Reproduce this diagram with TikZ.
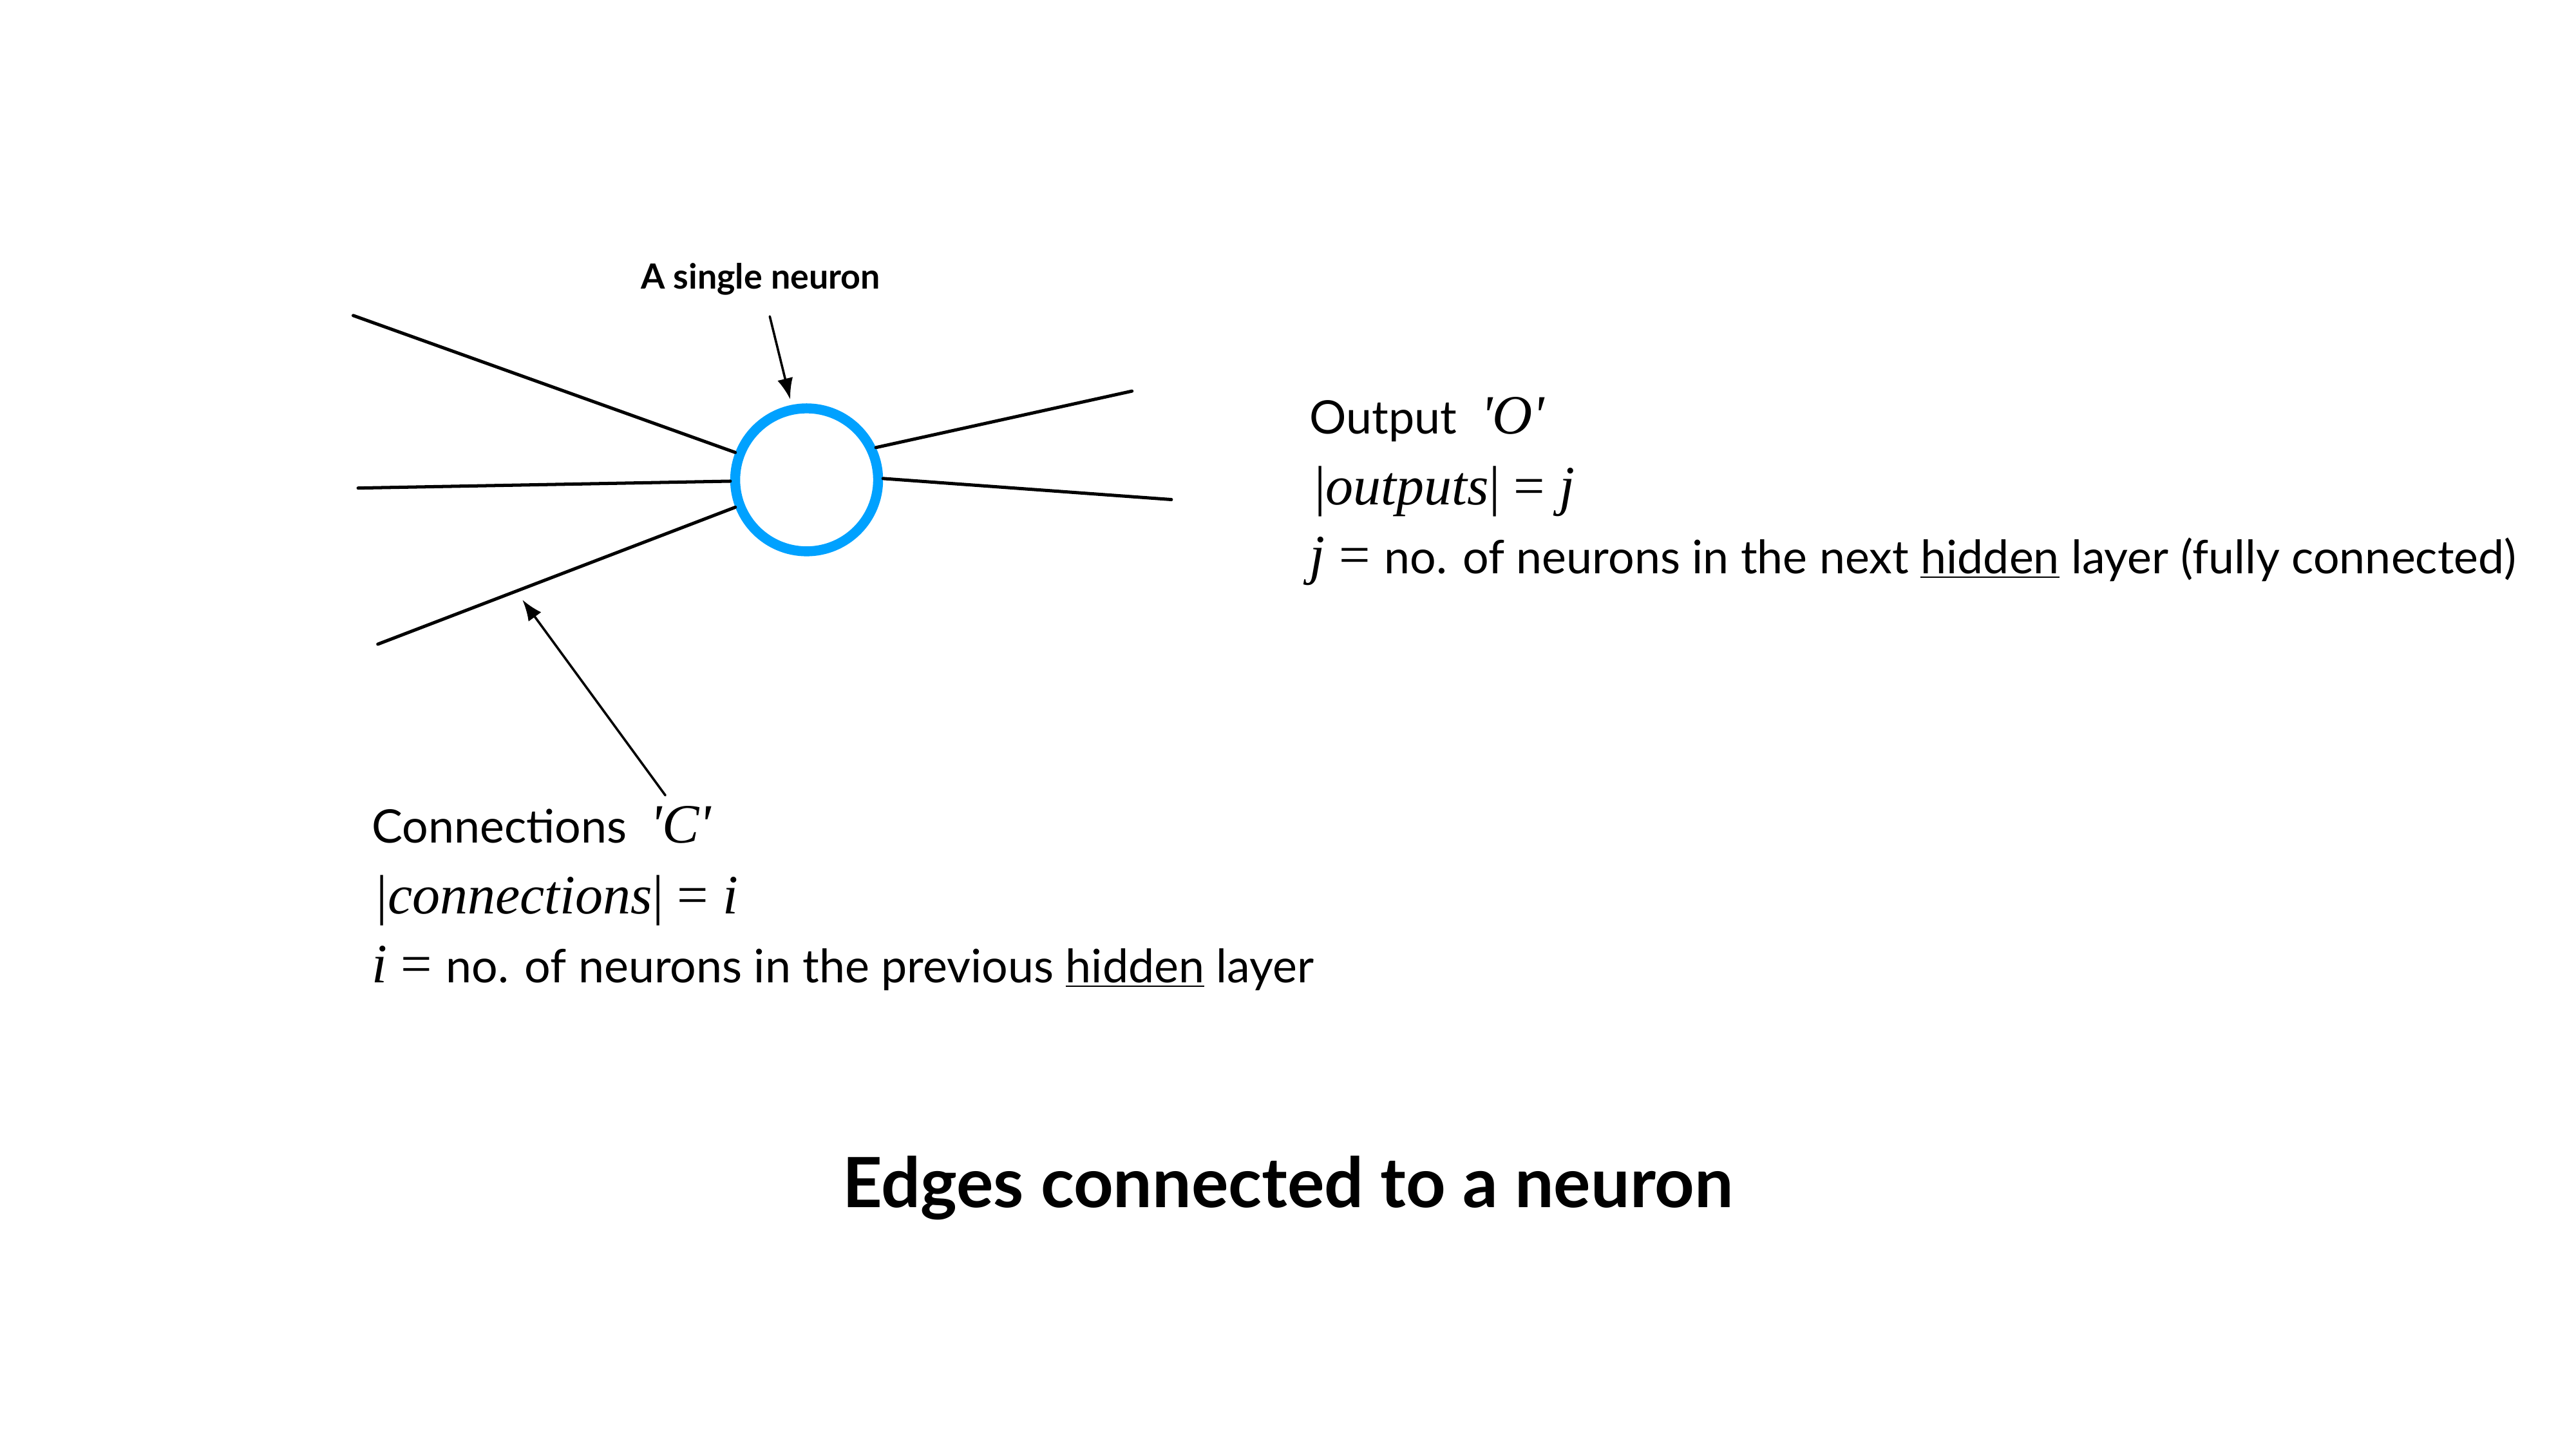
\documentclass[tikz,border=0pt]{standalone}
\usepackage{fontspec}
\setmainfont{Lato}
\newfontfamily\varfont{Liberation Serif}
\newcommand\var[1]{{\varfont\itshape\fontsize{24}{24}\selectfont #1}}
\newcommand\bars[1]{{\varfont\fontsize{24}{24}\selectfont|}\var{#1}{\varfont\fontsize{24}{24}\selectfont|}}
\newcommand\eqsign{\hspace{0.3em}{\varfont\fontsize{24}{24}\selectfont=}\hspace{0.3em}}
\usetikzlibrary{arrows.meta,positioning}
\definecolor{neuronblue}{RGB}{0,161,255}

\begin{document}
\begin{tikzpicture}[x=0.25mm,y=-0.25mm, line cap=round, line join=round,
  edge/.style={line width=1.4pt},
  pointer/.style={line width=1pt,-{Latex[length=3.2mm,width=2.4mm]}},
  body/.style={anchor=base west,inner sep=0pt,font=\fontsize{20}{24}\selectfont}]
  \useasboundingbox (0,0) rectangle (1568,882);
  % The neuron itself.
  \node[circle,draw=neuronblue,line width=4.3pt,inner sep=0pt,minimum size=21.75mm] (neuron) at (491,292) {};
  % Incoming edges from the previous layer.
  \coordinate (in1) at (215,192);
  \coordinate (in2) at (218,297);
  \coordinate (in3) at (230,392);
  \draw[edge] (in1) -- (neuron.159);
  \draw[edge] (in2) -- (neuron.181);
  \draw[edge] (in3) -- (neuron.201);
  % Outgoing edges to the next layer.
  \coordinate (out1) at (689,238);
  \coordinate (out2) at (713,304);
  \draw[edge] (neuron.25) -- (out1);
  \draw[edge] (neuron.1) -- (out2);
  % Label on top.
  \node[font=\fontsize{15}{18}\selectfont\bfseries] (single) at (463,170) {A single neuron};
  \coordinate (singletip) at (481,243);
  \draw[pointer,shorten <=2mm] (single) -- (singletip);
  % Output block.
  \node[body] (outtitle) at (797,264) {Output\ \ \var{\char"0027 O\char"0027}};
  \node[body] (outcount) at (800,307) {\bars{outputs}\eqsign\var{j}};
  \node[body] (outdef) at (797,349) {\var{j}\eqsign no. of neurons in the next \underline{hidden} layer (fully connected)};
  % Connections block.
  \node[body] (conntitle) at (226,513) {Connections\ \ \var{\char"0027 C\char"0027}};
  \node[body] (conncount) at (229,556) {\bars{connections}\eqsign\var{i}};
  \node[body] (conndef) at (226,598) {\var{i}\eqsign no. of neurons in the previous \underline{hidden} layer};
  \coordinate (conntail) at (405,484);
  \coordinate (conntip) at (318,365);
  \draw[pointer] (conntail) -- (conntip);
  % Caption.
  \node[font=\fontsize{30}{36}\selectfont\bfseries] (title) at (784,723) {Edges connected to a neuron};
\end{tikzpicture}
\end{document}
